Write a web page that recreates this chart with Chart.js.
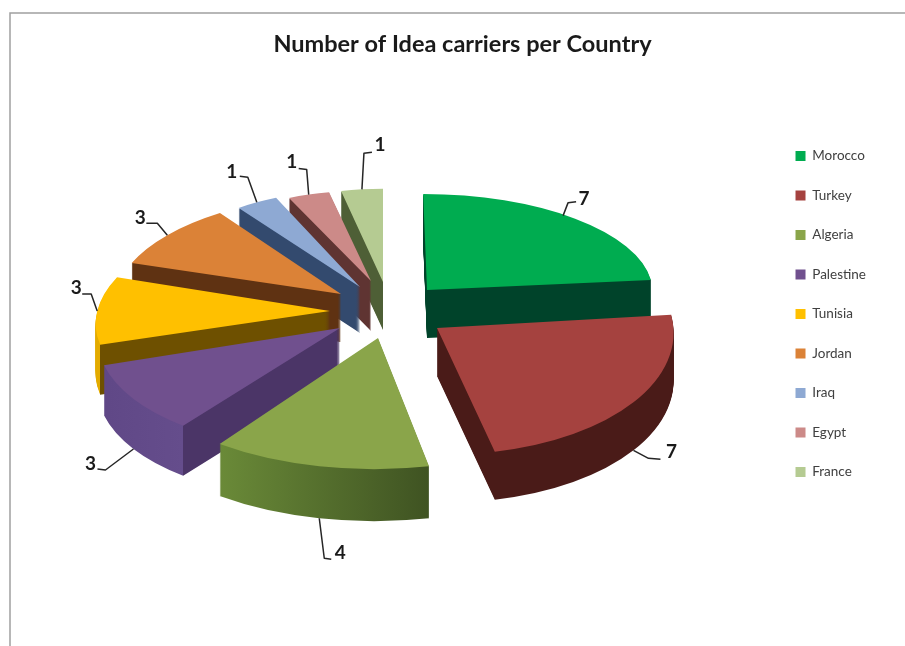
<!DOCTYPE html>
<html><head><meta charset="utf-8">
<style>html,body{margin:0;padding:0;background:#fff}canvas{display:block}</style>
<script src="https://cdn.jsdelivr.net/npm/chart.js@4"></script>
</head><body>
<canvas id="c" width="905" height="646"></canvas>
<script>
const countries = ['Morocco','Turkey','Algeria','Palestine','Tunisia','Jordan','Iraq','Egypt','France'];
const carriers = [7,7,4,3,3,3,1,1,1];
const chartTitle = 'Number of Idea carriers per Country';

const topColors = ['#00AC50','#A5423F','#8AA54A','#70508E','#FFC000','#DB8237','#8EA9D3','#CC8A88','#B5CB92'];
const wallFrom  = ['#00432A','#4A1B18','#6A8A38','#5F4786','#E3AB00','#5F3212','#334A6E','#5F3432','#4E5F36'];
const wallTo    = ['#00432A','#4A1B18','#3F5322','#654D8C','#E3AB00','#5F3212','#334A6E','#5F3432','#4E5F36'];
const wallEdge  = [null,null,null,'#4B3567','#6E5000',null,null,null,null];
const paintOrder = [8,7,6,5,4,3,0,1,2];

// explosion of each slice from the pie centre, and its perspective scale and shear
const explodeX = [44,54,-5,-43,-53,-42,-23,-12,0];
const explodeY = [-20,18,28,18,1,-16,-23,-29,-28];
const scaleX = [.94,.985,1.1,1.01,.97,.935,.86,.84,.84];
const scaleY = [.835,1.1,1.14,1.05,.95,.87,.85,.79,.81];
const shear  = [.04,.07,-.03,-.147,-.25,-.134,0,0,0];
const depths = [48,48,52,50,50,48,46,50,48];
const anchorsOnWall = [false,true,true,true,false,false,false,false,false];

// leader: start nudge, elbow and end, text, all relative to the slice's rim point
const leaderStart = [[-12,-3],[0,0],[0,0],[0,0],[0,0],[0,0],[0,0],[0,0],[0,0]];
const leaderElbow = [[-7,-16],[15,8],[5,40],[-28,21],[-6,-17],[-10,-12],[-9,-25],[-2,-25],[2,-36]];
const leaderEnd   = [[1,-17],[27,9],[12,41],[-36,20],[-15,-17],[-21,-12],[-17,-26],[-10,-26],[10,-37]];
const labelShift  = [[9,-20],[38,2],[21,35],[-43,15],[-21,-23],[-27,-17],[-25,-30],[-17,-33],[18,-44]];

const pieRadius = 240, squash = 115/240, centreX = 383, centreY = 310;

const exploded3D = {
  id:'exploded3D',
  beforeDraw(chart){
    const g = chart.ctx;
    g.save();
    g.strokeStyle = '#A0A0A0'; g.lineWidth = 1.5;
    g.beginPath(); g.moveTo(10,646); g.lineTo(10,13); g.lineTo(905,13); g.stroke();
    g.restore();
  },
  beforeDatasetsDraw(chart){
    const g = chart.ctx, arcs = chart.getDatasetMeta(0).data;
    const place = (a,i,shift)=>{
      g.translate(centreX+explodeX[i], centreY+explodeY[i]+shift);
      g.transform(1,0,shear[i],1,0,0);
      g.scale(scaleX[i], scaleY[i]*squash);
      g.translate(-a.x,-a.y);
    };
    paintOrder.forEach(i=>{
      const a = arcs[i], R = a.outerRadius, o = a.options;
      const c0 = Math.cos(a.startAngle), c1 = Math.cos(a.endAngle);
      const grad = g.createLinearGradient(a.x-R,0,a.x+R,0);
      if (wallEdge[i]) {
        const f = (1+c0)/2;
        grad.addColorStop(0,wallFrom[i]); grad.addColorStop(f,wallTo[i]);
        grad.addColorStop(f,wallEdge[i]); grad.addColorStop(1,wallEdge[i]);
      } else {
        grad.addColorStop((1+Math.min(c0,c1))/2,wallFrom[i]);
        grad.addColorStop((1+Math.max(c0,c1))/2,wallTo[i]);
      }
      const wall = Object.create(o); wall.backgroundColor = grad;
      a.options = wall;
      for (let d = depths[i]; d >= 1; d--) { g.save(); place(a,i,d); a.draw(g); g.restore(); }
      a.options = o;
      g.save(); place(a,i,0); a.draw(g); g.restore();
    });
    arcs.forEach((a,i)=>{
      const mid = (a.startAngle+a.endAngle)/2;
      const ly = scaleY[i]*squash*a.outerRadius*Math.sin(mid);
      const rx = centreX+explodeX[i]+scaleX[i]*a.outerRadius*Math.cos(mid)+shear[i]*ly;
      const ry = centreY+explodeY[i]+ly+(anchorsOnWall[i]?depths[i]:0);
      g.save();
      g.strokeStyle='#262626'; g.lineWidth=1.5; g.lineJoin='round';
      g.beginPath();
      g.moveTo(rx+leaderStart[i][0],ry+leaderStart[i][1]);
      g.lineTo(rx+leaderElbow[i][0],ry+leaderElbow[i][1]);
      g.lineTo(rx+leaderEnd[i][0],ry+leaderEnd[i][1]);
      g.stroke();
      g.fillStyle='#1a1a1a'; g.font='bold 19px Lato'; g.textAlign='center'; g.textBaseline='middle';
      g.fillText(String(carriers[i]),rx+labelShift[i][0],ry+labelShift[i][1]);
      g.restore();
    });
    return false;
  }
};

new Chart(document.getElementById('c'),{
  type:'pie',
  plugins:[exploded3D],
  data:{labels:countries,datasets:[{data:carriers,backgroundColor:topColors,borderWidth:0,radius:pieRadius}]},
  options:{
    responsive:false,animation:false,
    layout:{padding:{left:49,right:29,top:24,bottom:42}},
    plugins:{
      tooltip:{enabled:false},
      title:{display:true,text:chartTitle,color:'#1a1a1a',font:{family:'Lato',size:23.5,weight:'bold'},padding:{top:6,bottom:6}},
      legend:{position:'right',labels:{boxWidth:10,boxHeight:10,padding:26,color:'#404040',font:{family:'Lato',size:13.5}}}
    }
  }
});
</script>
</body></html>
